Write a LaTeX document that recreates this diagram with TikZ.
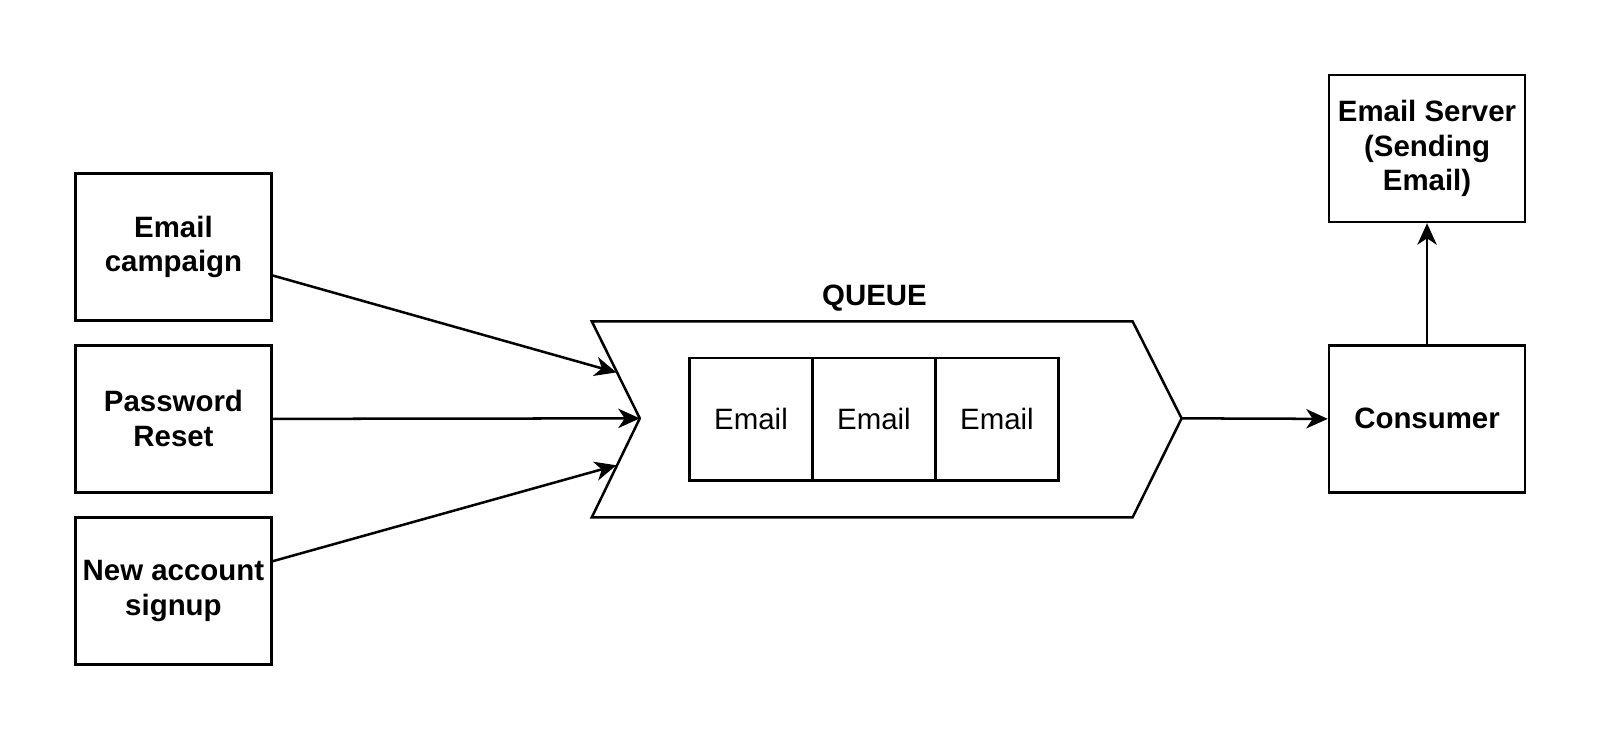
\documentclass[tikz,border=0pt]{standalone}
\usepackage{fontspec}
\setmainfont{Liberation Sans}
\usetikzlibrary{calc,arrows.meta}
\tikzset{%Global config
	>={Stealth[length=6pt,width=5.4pt,inset=1.8pt]},
	color = black ,
	%Styles
	Box/.style={
		draw,
		line width=0.7pt,
		minimum width=1.92cm,
		minimum height=1.44cm,
		inner sep=0pt,
		align=center,
		font=\fontsize{8.2}{9.7}\selectfont\bfseries,
	},
	Cell/.style={
		draw,
		line width=0.7pt,
		minimum width=1.205cm,
		minimum height=1.2cm,
		inner sep=0pt,
		font=\fontsize{8.2}{9.7}\selectfont,
	},
	Arrow/.style={
		->,
		line width=0.7pt,
	}
}
\begin{document}
\begin{tikzpicture}[x=0.01cm,y=-0.01cm]
		\useasboundingbox (0,0) rectangle (1568,725);
		% Producers
		\node[Box] (camp) at (170,242) {Email\\campaign};
		\node[Box] (reset) at (170,410.5) {Password\\Reset};
		\node[Box] (signup) at (170,579) {New account\\signup};
		
		% Queue
		\coordinate (qnotch) at (627,410);
		\coordinate (qtip) at (1158,410);
		\coordinate (qin1) at (604,365);
		\coordinate (qin3) at (604,456);
		\draw[line width=0.7pt] (580,315) -- (1110,315) -- (qtip) -- (1110,507) -- (580,507) -- (qnotch) -- cycle;
		\node[font=\fontsize{8.2}{9.7}\selectfont\bfseries] (qlabel) at (857,292) {QUEUE};
		\foreach \i/\x in {1/736,2/856.5,3/977}{
			\node[Cell] (c\i) at (\x,411) {Email};
		}
		
		% Consumer side
		\node[Box] (cons) at (1398.5,410.5) {Consumer};
		\node[Box] (server) at (1398.5,145.5) {Email Server\\(Sending\\Email)};
		
		\draw[Arrow] ($(camp.east)+(0,28)$) -- (qin1);
		\draw[Arrow] (reset.east) -- (qnotch);
		\draw[Arrow] ($(signup.east)+(0,-29)$) -- (qin3);
		\draw[Arrow] (qtip) -- (cons.west);
		\draw[Arrow] (cons.north) -- (server.south);
	\end{tikzpicture}
\end{document}
